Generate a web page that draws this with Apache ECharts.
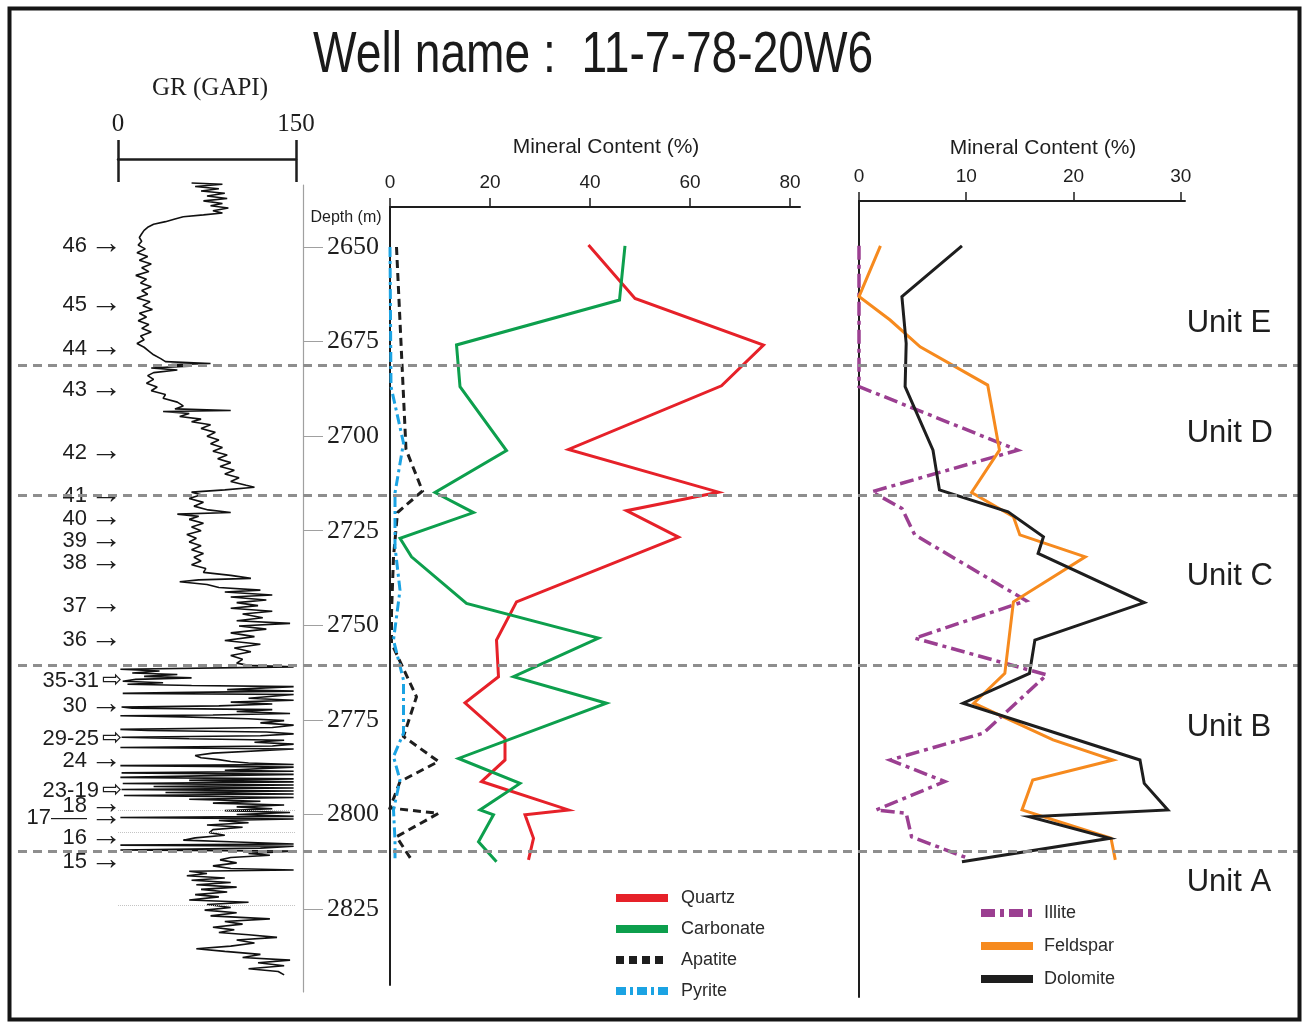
<!DOCTYPE html>
<html>
<head>
<meta charset="utf-8">
<script src="https://cdn.jsdelivr.net/npm/echarts@6/dist/echarts.min.js"></script>
<style>
  html, body { margin: 0; padding: 0; background: #fff; }
  #chart { width: 1302px; height: 1023px; }
</style>
</head>
<body>
<div id="chart"></div>
<script>
// ---- data (depth in m) ----
const depthTicks = [2650, 2675, 2700, 2725, 2750, 2775, 2800, 2825];
const grTicks = [0, 150];
const mineralTicks = [0, 20, 40, 60, 80];
const clayTicks = [0, 10, 20, 30];

const unitTops = [2681.2, 2715.6, 2760.5, 2809.7];
const unitNames = ['Unit E', 'Unit D', 'Unit C', 'Unit B', 'Unit A'];
const unitLabelDepth = [2670.1, 2699.4, 2737.2, 2776.9, 2817.9];

const sampleNames = ['46', '45', '44', '43', '42', '41', '40', '39', '38', '37', '36',
  '35-31', '30', '29-25', '24', '23-19', '18', '17', '16', '15'];
const sampleDepths = [2649.7, 2665.3, 2677.0, 2687.8, 2704.5, 2715.8, 2721.9, 2727.7, 2733.5,
  2744.9, 2753.9, 2764.7, 2771.3, 2780.1, 2785.9, 2793.8, 2797.8, 2800.9, 2806.2, 2812.6];

// core gaps marked with faint dotted lines on the GR track
const coreGaps = [2798.8, 2804.6, 2823.9];

// [depth, GR]
const grLog = [
  [2633.1,62],[2633.4,88],[2634.0,65],[2634.6,85],[2635.2,70],[2635.8,90],[2636.5,75],[2637.2,92],
  [2637.8,72],[2638.5,88],[2639.1,78],[2639.7,93],[2640.4,80],[2641.0,88],[2641.5,72],[2642.0,55],
  [2642.6,48],[2643.3,40],[2644.0,30],[2644.8,25],[2645.6,22],[2646.5,20],[2647.5,18],[2648.5,20],
  [2649.5,17],[2650.5,23],[2651.5,16],[2652.5,25],[2653.5,18],[2654.5,28],[2655.5,20],[2656.5,26],
  [2657.5,15],[2658.5,24],[2659.5,19],[2660.5,28],[2661.5,20],[2662.5,25],[2663.5,16],[2664.5,27],
  [2665.5,21],[2666.5,29],[2667.5,18],[2668.5,24],[2669.5,17],[2670.5,26],[2671.5,20],[2672.5,28],
  [2673.5,19],[2674.5,22],[2675.5,16],[2676.5,22],[2677.5,26],[2678.5,30],[2679.5,36],[2680.3,40],
  [2680.8,78],[2681.1,45],[2681.5,60],[2682.0,28],[2682.5,50],[2683.2,30],[2684,25],[2685,30],
  [2686,24],[2687,33],[2688,28],[2689,40],[2690,38],[2691,50],[2692,55],[2692.8,48],[2693.2,95],
  [2693.5,38],[2694,60],[2694.8,52],[2695.5,70],[2696.2,62],[2697,78],[2698,70],[2699,82],[2700,75],
  [2701,85],[2702,78],[2703,88],[2704,80],[2705,92],[2706,84],[2707,95],[2708,86],[2709,98],[2710,90],
  [2711,102],[2712,95],[2713,108],[2713.5,115],[2714.2,90],[2714.8,62],[2715.5,70],[2716.5,60],
  [2717.5,72],[2718.5,64],[2719.5,76],[2720.2,95],[2720.6,50],[2721.2,68],[2722,60],[2723,72],
  [2724,62],[2725,70],[2726,58],[2727,66],[2728,60],[2729,70],[2730,62],[2731,72],[2732,64],[2733,70],
  [2734,62],[2735,74],[2736,72],[2736.8,95],[2737.6,112],[2738.0,68],[2738.5,52],[2739.2,75],[2740,85],
  [2740.7,120],[2741.2,90],[2742,130],[2742.5,95],[2743.3,125],[2744,100],[2744.8,118],[2745.5,95],
  [2746.3,130],[2747,105],[2748,122],[2748.8,100],[2749.5,145],[2750.2,102],[2751,125],[2752,95],
  [2753,115],[2754,90],[2755,120],[2756,98],[2757,112],[2758,95],[2759,105],[2760,100],[2760.6,110],
  [2761.0,148],[2761.4,148],[2761.6,2],[2762.1,35],[2762.6,12],[2763.0,50],[2763.5,22],[2763.9,62],
  [2764.3,15],[2764.8,4],[2765.2,38],[2765.6,8],[2765.9,62],[2766.2,148],[2766.6,148],[2767.0,92],
  [2767.4,148],[2767.8,45],[2768.0,4],[2768.3,148],[2768.8,148],[2769.3,110],[2769.8,148],[2770.3,95],
  [2770.8,130],[2771.3,85],[2771.6,3],[2771.9,12],[2772.3,130],[2772.8,100],[2773.3,145],[2773.7,80],
  [2773.9,2],[2774.2,55],[2774.7,110],[2775.2,140],[2775.8,120],[2776.4,148],[2777.0,130],[2777.5,2],
  [2777.8,25],[2778.2,125],[2778.7,148],[2779.2,120],[2779.6,3],[2780.0,60],[2780.4,140],[2780.9,115],
  [2781.4,148],[2781.9,130],[2782.3,2],[2782.7,148],[2783.1,148],[2783.8,80],[2784.4,65],[2785.0,70],
  [2785.5,85],[2786.0,95],[2786.4,110],[2786.8,148],[2787.1,2],[2787.5,148],[2787.9,148],[2788.3,90],
  [2788.6,148],[2789.0,3],[2789.4,148],[2789.8,70],[2790.2,2],[2790.6,148],[2791.0,60],[2791.4,148],
  [2791.8,4],[2792.2,148],[2792.6,30],[2793.0,148],[2793.4,3],[2793.8,148],[2794.2,40],[2794.6,148],
  [2795.0,5],[2795.5,148],[2796.0,60],[2796.5,120],[2797.0,80],[2797.5,140],[2798.0,100],[2798.5,130],
  [2799.0,90],[2799.5,145],[2800.0,100],[2800.5,148],[2800.8,2],[2801.2,148],[2801.6,85],[2802.2,110],
  [2802.8,75],[2803.4,105],[2804,80],[2804.8,77],[2805.5,90],[2806.2,65],[2806.8,55],[2807.3,100],
  [2807.8,148],[2808.1,2],[2808.4,148],[2808.9,120],[2809.4,2],[2809.7,148],[2810.3,110],[2810.8,128],
  [2811.4,95],[2812,86],[2812.8,100],[2813.6,80],[2814.3,95],[2814.7,148],[2815,60],[2815.6,75],
  [2816.2,58],[2816.8,90],[2817.4,62],[2818,95],[2818.6,66],[2819.2,100],[2819.8,70],[2820.5,92],
  [2821.2,65],[2821.8,85],[2822.6,60],[2823.2,110],[2823.8,75],[2824.6,95],[2825.3,73],[2826,100],
  [2826.8,78],[2827.6,128],[2828.3,90],[2829,105],[2829.8,80],[2830.5,98],[2831.2,85],[2831.8,110],
  [2832.5,134],[2833.2,100],[2834,115],[2834.8,95],[2835.5,66],[2836.2,90],[2837,120],[2837.8,105],
  [2838.5,145],[2839.2,118],[2840,140],[2840.8,110],[2841.5,135],[2842.4,140]
];

// mineral content, [depth, %]
const quartz = [[2649.5,39.7],[2663.6,49],[2675.9,74.7],[2686.7,66.3],[2703.5,35.7],[2714.8,65.7],
  [2719.7,47.3],[2726.7,57.7],[2743.8,25.3],[2753.9,21.3],[2763.6,21.7],[2770.5,15],[2779.9,23],
  [2785.6,23],[2791.3,18.3],[2798.8,35.7],[2800.1,27],[2806.3,28.7],[2812.0,27.7]];
const carbonate = [[2649.7,47],[2664.0,45.9],[2675.9,13.3],[2686.9,14],[2703.8,23.3],[2714.9,9],
  [2720.2,16.7],[2727.0,2],[2731.9,4.3],[2744.2,15.3],[2753.4,41.7],[2763.6,24.7],[2770.6,43.3],
  [2785.2,13.7],[2791.8,26],[2798.8,18],[2800.1,20.7],[2807.2,17.7],[2812.5,21.3]];
const apatite = [[2650,1.3],[2703.5,3.2],[2714.5,6.5],[2720.2,1.5],[2731.9,0.7],[2746.8,0.3],
  [2754.7,0.3],[2768.9,5.3],[2779.4,2.7],[2786,9.7],[2791.3,2],[2798.3,0],[2799.7,9.7],
  [2805.9,1.3],[2812,4.3]];
const pyrite = [[2650,0],[2686.9,0.2],[2701.8,2.7],[2715,1],[2729.2,1],[2740.7,2],[2753.9,0.7],
  [2764.5,2.7],[2778.5,2.7],[2784.7,0.7],[2790.9,2],[2798.8,0.7],[2806.8,1],[2812,1]];

const illite = [[2649.7,0],[2686.9,0],[2703.7,14.8],[2714.7,1.2],[2719.1,4.0],[2726.1,5.2],
  [2743.5,15.6],[2753.4,5.2],[2763.1,17.5],[2778.5,11.6],[2785.6,2.9],[2791.3,8.0],[2798.8,1.6],
  [2799.7,4.4],[2805.9,4.9],[2811.3,9.9]];
const feldspar = [[2649.7,2.0],[2663.1,0],[2669.3,2.9],[2676.4,5.7],[2686.5,12],[2703.7,13.1],
  [2714.9,10.5],[2721.3,14.4],[2726.1,15],[2731.9,21.1],[2743.8,14.4],[2762.7,13.6],[2770.6,10.7],
  [2780.3,18.1],[2785.6,23.7],[2790.9,16.2],[2798.8,15.2],[2806.3,23.5],[2812.0,23.9]];
const dolomite = [[2649.7,9.6],[2663.1,4.0],[2675.5,4.4],[2686.9,4.3],[2703.7,6.9],[2714.2,7.5],
  [2720,13.9],[2726.6,17.2],[2731.0,16.7],[2744.0,26.6],[2753.9,16.4],[2762.7,15.9],[2770.6,9.7],
  [2785.6,26.2],[2791.8,26.6],[2798.8,28.8],[2800.6,15.9],[2806.3,23.4],[2812.5,9.6]];

// ---- layout ----
// every track shares one depth scale: row of 2650 m and pixels per metre
const Y_2650 = 247;
const PX_PER_M = 3.783;
function depthAt(py) { return 2650 + (py - Y_2650) / PX_PER_M; }

const SANS = '"Liberation Sans", Arial, sans-serif';
const SERIF = '"Liberation Serif", "Times New Roman", serif';
const INK = '#1e1e1e';

// [left, top, width, height] of each track
const tracks = {
  gr: [118, 159, 178, 834],
  depth: [303, 185, 80, 807],
  mineral: [390, 207, 410, 778],
  clay: [859, 201, 326, 796],
  units: [18, 150, 1280, 850]
};
const UNIT_LABEL_X = 0.913;

function grid(t) {
  return { left: t[0], top: t[1], width: t[2], height: t[3], outerBoundsMode: 'none', containLabel: false };
}
function yDepth(gridIndex, t, extra) {
  return Object.assign({
    gridIndex, type: 'value', inverse: true,
    min: depthAt(t[1]), max: depthAt(t[1] + t[3]),
    splitLine: { show: false }, axisLabel: { show: false },
    axisTick: { show: false }, axisLine: { show: false, onZero: false }
  }, extra || {});
}
function toXY(rows) { return rows.map(r => [r[1], r[0]]); }

function sampleText(name) {
  if (name === '17') return '{n|17}{d|\u2014\u2014}{a|\u2192}';
  if (name.indexOf('-') > 0) return '{n|' + name + '}{h|\u21E8}';
  return '{n|' + name + '}{a|\u2192}';
}

const chart = echarts.init(document.getElementById('chart'));

function mineralLine(name, rows, color, type, xi, yi, width) {
  return {
    name, type: 'line', xAxisIndex: xi, yAxisIndex: yi, data: toXY(rows),
    symbol: 'none', silent: true, z: 4,
    lineStyle: { color, width: width || 3, type: type || 'solid', cap: 'butt', join: 'miter' },
    itemStyle: { color }
  };
}

const legendBase = {
  orient: 'vertical', itemWidth: 52, itemHeight: 12, selectedMode: false,
  lineStyle: { width: 8 },
  itemStyle: { opacity: 0, borderWidth: 0 }
};

const option = {
  animation: false,
  backgroundColor: '#fff',
  grid: [grid(tracks.gr), grid(tracks.depth), grid(tracks.mineral), grid(tracks.clay), grid(tracks.units)],
  xAxis: [
    { gridIndex: 0, type: 'value', min: 0, max: 150, position: 'top',
      axisLine: { show: true, onZero: false, lineStyle: { color: INK, width: 2.5 } },
      axisTick: { show: true, customValues: grTicks, length: 19, lineStyle: { color: INK, width: 2.5 } },
      axisLabel: { show: true, customValues: grTicks, margin: 22, color: INK, fontFamily: SERIF, fontSize: 25 },
      splitLine: { show: false } },
    { gridIndex: 0, type: 'value', min: 0, max: 150, position: 'top',
      axisLine: { show: false, onZero: false },
      axisTick: { show: true, inside: true, customValues: grTicks, length: 23, lineStyle: { color: INK, width: 2.5 } },
      axisLabel: { show: false }, splitLine: { show: false } },
    { gridIndex: 1, type: 'value', min: 0, max: 1, show: false },
    { gridIndex: 2, type: 'value', min: 0, max: 82, position: 'top',
      axisLine: { show: true, onZero: false, lineStyle: { color: INK, width: 2 } },
      axisTick: { show: true, customValues: mineralTicks, length: 9, lineStyle: { color: INK, width: 1.5 } },
      axisLabel: { show: true, customValues: mineralTicks, margin: 15, color: INK, fontFamily: SANS, fontSize: 19 },
      splitLine: { show: false } },
    { gridIndex: 3, type: 'value', min: 0, max: 30.4, position: 'top',
      axisLine: { show: true, onZero: false, lineStyle: { color: INK, width: 2 } },
      axisTick: { show: true, customValues: clayTicks, length: 9, lineStyle: { color: INK, width: 1.5 } },
      axisLabel: { show: true, customValues: clayTicks, margin: 15, color: INK, fontFamily: SANS, fontSize: 19 },
      splitLine: { show: false } },
    { gridIndex: 4, type: 'value', min: 0, max: 1, show: false }
  ],
  yAxis: [
    yDepth(0, tracks.gr),
    yDepth(1, tracks.depth, {
      axisLine: { show: true, onZero: false, lineStyle: { color: '#a0a0a0', width: 1.2 } },
      axisTick: { show: true, inside: true, customValues: depthTicks, length: 20, lineStyle: { color: '#a0a0a0', width: 1 } },
      axisLabel: { show: true, inside: true, customValues: depthTicks, margin: 24, color: INK,
        fontFamily: SERIF, fontSize: 26, formatter: v => String(v) }
    }),
    yDepth(2, tracks.mineral, { axisLine: { show: true, onZero: false, lineStyle: { color: INK, width: 2 } } }),
    yDepth(3, tracks.clay, { axisLine: { show: true, onZero: false, lineStyle: { color: INK, width: 2 } } }),
    yDepth(4, tracks.units)
  ],
  legend: [
    Object.assign({}, legendBase, {
      data: ['Quartz', 'Carbonate', 'Apatite', 'Pyrite'], left: 607, top: 884, itemGap: 13,
      textStyle: { color: '#2a2a2a', fontFamily: SANS, fontSize: 18, padding: [0, 0, 0, 8] } }),
    Object.assign({}, legendBase, {
      data: ['Illite', 'Feldspar', 'Dolomite'], left: 972, top: 899, itemGap: 15,
      textStyle: { color: '#2a2a2a', fontFamily: SANS, fontSize: 18, padding: [0, 0, 0, 6] } })
  ],
  series: [
    { name: 'GR', type: 'line', xAxisIndex: 0, yAxisIndex: 0, data: toXY(grLog), symbol: 'none', silent: true,
      lineStyle: { color: '#111', width: 1.6 }, z: 3,
      markLine: { silent: true, symbol: 'none', label: { show: false },
        lineStyle: { color: '#c4c4c4', type: 'dotted', width: 1 },
        data: coreGaps.map(d => ({ yAxis: d })) } },
    { name: 'samples', type: 'scatter', xAxisIndex: 0, yAxisIndex: 0, symbolSize: 0, silent: true,
      itemStyle: { opacity: 1 },
      data: sampleNames.map((n, i) => ({ name: n, value: [0, sampleDepths[i]] })),
      label: { show: true, position: 'left', distance: -4, opacity: 1,
        formatter: p => sampleText(p.name),
        rich: {
          n: { color: '#1e1e1e', fontFamily: SANS, fontSize: 22, verticalAlign: 'middle' },
          d: { color: '#1e1e1e', fontFamily: SANS, fontSize: 18, verticalAlign: 'middle' },
          a: { color: '#1e1e1e', fontFamily: SANS, fontSize: 32, verticalAlign: 'middle', padding: [0, 0, 4, 3] },
          h: { color: '#1e1e1e', fontFamily: '"DejaVu Sans", sans-serif', fontSize: 24, verticalAlign: 'middle', padding: [0, 0, 0, 3] }
        } } },
    { name: 'units', type: 'scatter', xAxisIndex: 5, yAxisIndex: 4, symbolSize: 0, silent: true, z: 6,
      itemStyle: { opacity: 1 },
      data: unitNames.map((n, i) => ({ name: n, value: [UNIT_LABEL_X, unitLabelDepth[i]] })),
      label: { show: true, position: 'right', distance: 0, opacity: 1, color: '#1e1e1e', fontFamily: SANS, fontSize: 31,
        formatter: p => p.name },
      markLine: { silent: true, symbol: 'none', label: { show: false },
        lineStyle: { color: '#8e8e8e', type: [9, 6], width: 3 },
        data: unitTops.map(d => ({ yAxis: d })) } },
    mineralLine('Quartz', quartz, '#e62129', 'solid', 3, 2),
    mineralLine('Carbonate', carbonate, '#0d9f4d', 'solid', 3, 2),
    mineralLine('Apatite', apatite, '#1e1e1e', [8, 5], 3, 2),
    mineralLine('Pyrite', pyrite, '#1ba3e3', [10, 4, 3, 4], 3, 2),
    mineralLine('Illite', illite, '#9b3f91', [14, 5, 4, 5], 4, 3, 3.5),
    mineralLine('Feldspar', feldspar, '#f68a1e', 'solid', 4, 3),
    mineralLine('Dolomite', dolomite, '#1e1e1e', 'solid', 4, 3)
  ],
  graphic: [
    { type: 'text', x: 313, y: 56, z: 10, scaleX: 0.81,
      style: { text: 'Well name :  11-7-78-20W6', font: '57px ' + SANS, fill: '#1a1a1a',
        align: 'left', verticalAlign: 'middle', textAlign: 'left', textVerticalAlign: 'middle' } },
    { type: 'text', x: 210, y: 88, z: 10,
      style: { text: 'GR (GAPI)', font: '25px ' + SERIF, fill: INK,
        align: 'center', verticalAlign: 'middle', textAlign: 'center', textVerticalAlign: 'middle' } },
    { type: 'text', x: 606, y: 147, z: 10,
      style: { text: 'Mineral Content (%)', font: '21px ' + SANS, fill: INK,
        align: 'center', verticalAlign: 'middle', textAlign: 'center', textVerticalAlign: 'middle' } },
    { type: 'text', x: 1043, y: 148, z: 10,
      style: { text: 'Mineral Content (%)', font: '21px ' + SANS, fill: INK,
        align: 'center', verticalAlign: 'middle', textAlign: 'center', textVerticalAlign: 'middle' } },
    { type: 'text', x: 346, y: 218, z: 10,
      style: { text: 'Depth (m)', font: '16px ' + SANS, fill: INK,
        align: 'center', verticalAlign: 'middle', textAlign: 'center', textVerticalAlign: 'middle' } },
    { type: 'rect', z: 20, silent: true,
      shape: { x: 9.5, y: 8.5, width: 1290, height: 1011 },
      style: { fill: null, stroke: '#151515', lineWidth: 4 } }
  ]
};

chart.setOption(option);
window.addEventListener('resize', () => chart.resize());
</script>
</body>
</html>
